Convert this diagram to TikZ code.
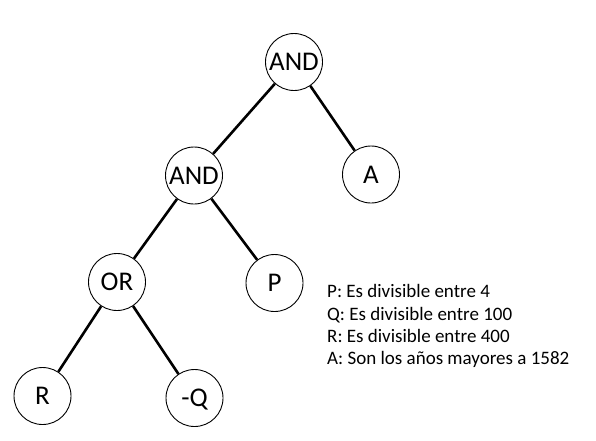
\documentclass[tikz,border=0pt]{standalone}
\usepackage{fontspec}
\setmainfont{Carlito}
\begin{document}
\begin{tikzpicture}[x=1pt,y=-1pt,
  tnode/.style={circle,draw,line width=0.9pt,minimum size=57pt,inner sep=0pt,text height=17.4pt,text depth=0pt,font=\fontsize{27}{32}\selectfont},
  edge/.style={line width=2.6pt},
  legend/.style={anchor=base west,inner sep=0pt,font=\fontsize{19}{22}\selectfont}]
\useasboundingbox (0,0) rectangle (596,440);
\node[tnode] (and1) at (294,62) {AND};
\node[tnode] (and2) at (194,175.5) {AND};
\node[tnode] (a) at (371,174.5) {A};
\node[tnode] (or) at (117,282) {OR};
\node[tnode] (p) at (274.5,283) {P};
\node[tnode] (r) at (42.5,396) {R};
\node[tnode] (q) at (194.5,398) {-Q};
\draw[edge] (and1) -- (and2);
\draw[edge] (and1) -- (a);
\draw[edge] (and2) -- (or);
\draw[edge] (and2) -- (p);
\draw[edge] (or) -- (r);
\draw[edge] (or) -- (q);
\node[legend] (l1) at (327,297.5) {P: Es divisible entre 4};
\node[legend] (l2) at (327,320) {Q: Es divisible entre 100};
\node[legend] (l3) at (327,342) {R: Es divisible entre 400};
\node[legend] (l4) at (327,364) {A: Son los años mayores a 1582};
\end{tikzpicture}
\end{document}
